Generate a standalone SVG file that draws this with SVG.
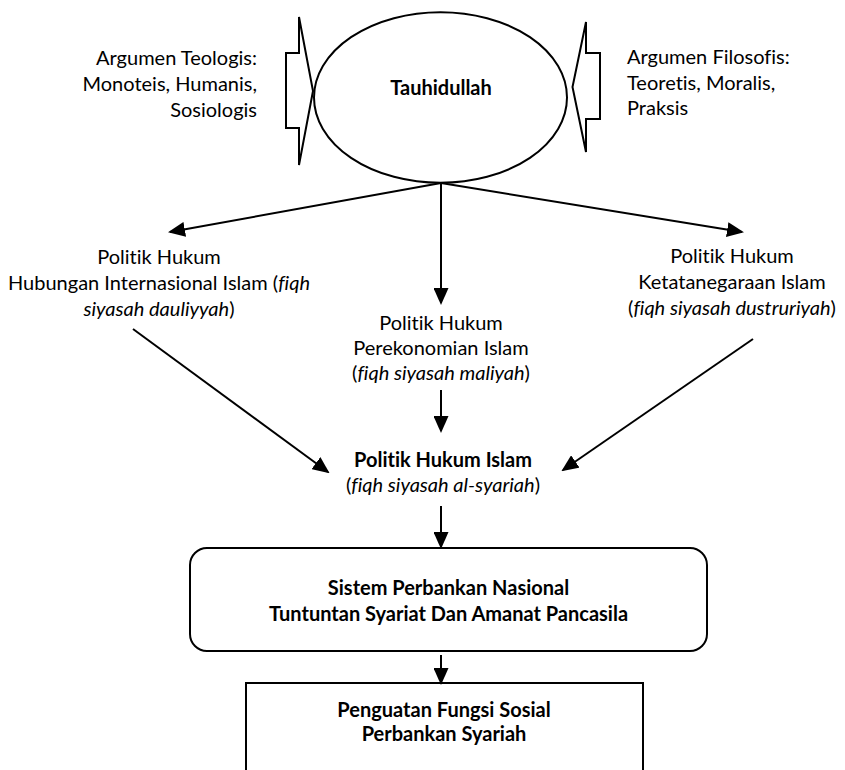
<svg xmlns="http://www.w3.org/2000/svg" width="845" height="770" viewBox="0 0 845 770">
<style>
text{font-family:Lato,"Liberation Sans",sans-serif;font-size:20px;fill:#000;font-variant-ligatures:none;font-feature-settings:"liga" 0,"dlig" 0}
.b{font-weight:bold}
.i{font-style:italic}
.c{text-anchor:middle}
.r{text-anchor:end}
.s{fill:none;stroke:#000;stroke-width:2}
.a{fill:none;stroke:#000;stroke-width:2;marker-end:url(#ah)}
</style>
<defs>
<marker id="ah" markerUnits="userSpaceOnUse" markerWidth="17" markerHeight="15" refX="15" refY="7.5" orient="auto" viewBox="0 0 17 15">
<path d="M0,0 L17,7.5 L0,15 z" fill="#000"/>
</marker>
</defs>
<rect width="845" height="770" fill="#fff"/>
<g id="tauhidullah">
<ellipse class="s" cx="440.5" cy="97.5" rx="126.5" ry="85.3"/>
<text class="b c" x="441" y="95">Tauhidullah</text>
</g>
<g id="argumen-teologis">
<path class="s" d="M299,17 L299,53 L286,53 L286,128 L299,128 L299,165 L313,91 Z"/>
<text class="r" x="257"><tspan x="257" y="65">Argumen Teologis:</tspan><tspan x="257" y="91">Monoteis, Humanis,</tspan><tspan x="257" y="116.5">Sosiologis</tspan></text>
</g>
<g id="argumen-filosofis">
<path class="s" d="M586,22 L586,53 L600,53 L600,119 L586,119 L586,152 L572.5,87 Z"/>
<text x="627"><tspan x="627" y="64">Argumen Filosofis:</tspan><tspan x="627" y="90">Teoretis, Moralis,</tspan><tspan x="627" y="115">Praksis</tspan></text>
</g>
<g id="hubungan-internasional">
<text class="c"><tspan x="159" y="264">Politik Hukum</tspan><tspan x="159" y="290">Hubungan Internasional Islam (<tspan class="i">fiqh</tspan></tspan><tspan x="159" y="316"><tspan class="i">siyasah dauliyyah</tspan>)</tspan></text>
</g>
<g id="perekonomian">
<text class="c"><tspan x="441" y="330">Politik Hukum</tspan><tspan x="441" y="355">Perekonomian Islam</tspan><tspan x="441" y="380">(<tspan class="i">fiqh siyasah maliyah</tspan>)</tspan></text>
</g>
<g id="ketatanegaraan">
<text class="c"><tspan x="732" y="263">Politik Hukum</tspan><tspan x="732" y="289">Ketatanegaraan Islam</tspan><tspan x="732" y="314.5">(<tspan class="i">fiqh siyasah dustruriyah</tspan>)</tspan></text>
</g>
<g id="politik-hukum-islam">
<text class="c"><tspan class="b" x="443" y="467">Politik Hukum Islam</tspan><tspan x="443" y="492">(<tspan class="i">fiqh siyasah al-syariah</tspan>)</tspan></text>
</g>
<g id="sistem-perbankan">
<rect class="s" x="190" y="548" width="517" height="103" rx="17" ry="17"/>
<text class="b c"><tspan x="448.5" y="595">Sistem Perbankan Nasional</tspan><tspan x="448.5" y="620.5">Tuntuntan Syariat Dan Amanat Pancasila</tspan></text>
</g>
<g id="penguatan-fungsi">
<rect class="s" x="246" y="683" width="397" height="100"/>
<text class="b c"><tspan x="444" y="716.5">Penguatan Fungsi Sosial</tspan><tspan x="444" y="740.5">Perbankan Syariah</tspan></text>
</g>
<g id="connectors">
<line class="a" x1="441" y1="183" x2="170" y2="232"/>
<line class="a" x1="441" y1="183" x2="441" y2="303"/>
<line class="a" x1="441" y1="183" x2="742" y2="232"/>
<line class="a" x1="133" y1="329" x2="328" y2="472"/>
<line class="a" x1="441" y1="390" x2="441" y2="431"/>
<line class="a" x1="753" y1="339" x2="563" y2="470"/>
<line class="a" x1="441" y1="506" x2="441" y2="547"/>
<line class="a" x1="441" y1="655" x2="441" y2="683"/>
</g>
</svg>
